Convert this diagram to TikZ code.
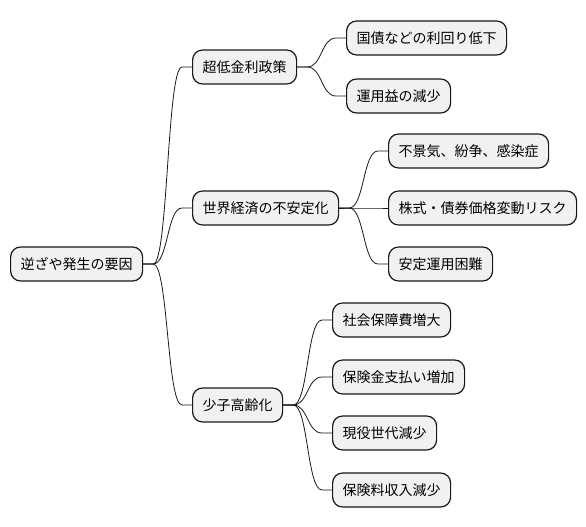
\documentclass[tikz,border=0pt]{standalone}
\usepackage{fontspec}
\setmainfont{Noto Sans CJK JP}
\usepackage{tikz}
\usetikzlibrary{positioning, calc}
\definecolor{mmFill}{HTML}{F1F1F1}
\definecolor{mmLine}{HTML}{181818}

\tikzset{
  topic/.style={draw=mmLine, fill=mmFill, line width=1.2pt, rounded corners=10pt,
    minimum height=34pt, inner xsep=10pt, inner ysep=0pt, anchor=west,
    font=\fontsize{14pt}{16pt}\selectfont},
  link/.style={draw=mmLine, line width=0.8pt},
}
\newcommand\mmlink[2]{%
  \draw[link] (#1.east) -- ++(10,0) .. controls +(15,0) and +(-15,0) .. ($(#2.west)+(-10,0)$) -- (#2.west);}

\begin{document}
\begin{tikzpicture}[x=1pt, y=-1pt]
        \useasboundingbox (0,0) rectangle (586,527);
        % root
        \node[topic] (root) at (10, 264) {逆ざや発生の要因};
        % first level
        \node[topic] (rate) at (192, 67) {超低金利政策};
        \node[topic] (world) at (192, 208) {世界経済の不安定化};
        \node[topic] (aging) at (192, 405) {少子高齢化};
        % leaves
        \node[topic] (yield) at (346, 38) {国債などの利回り低下};
        \node[topic] (gain) at (346, 96) {運用益の減少};
        \node[topic] (recess) at (388, 151) {不景気、紛争、感染症};
        \node[topic] (price) at (388, 208) {株式・債券価格変動リスク};
        \node[topic] (stable) at (388, 264) {安定運用困難};
        \node[topic] (social) at (332, 320) {社会保障費増大};
        \node[topic] (payout) at (332, 377) {保険金支払い増加};
        \node[topic] (worker) at (332, 433) {現役世代減少};
        \node[topic] (premium) at (332, 490) {保険料収入減少};
        % links
        \mmlink{root}{rate}
        \mmlink{root}{world}
        \mmlink{root}{aging}
        \mmlink{rate}{yield}
        \mmlink{rate}{gain}
        \mmlink{world}{recess}
        \mmlink{world}{price}
        \mmlink{world}{stable}
        \mmlink{aging}{social}
        \mmlink{aging}{payout}
        \mmlink{aging}{worker}
        \mmlink{aging}{premium}
      \end{tikzpicture}
\end{document}
